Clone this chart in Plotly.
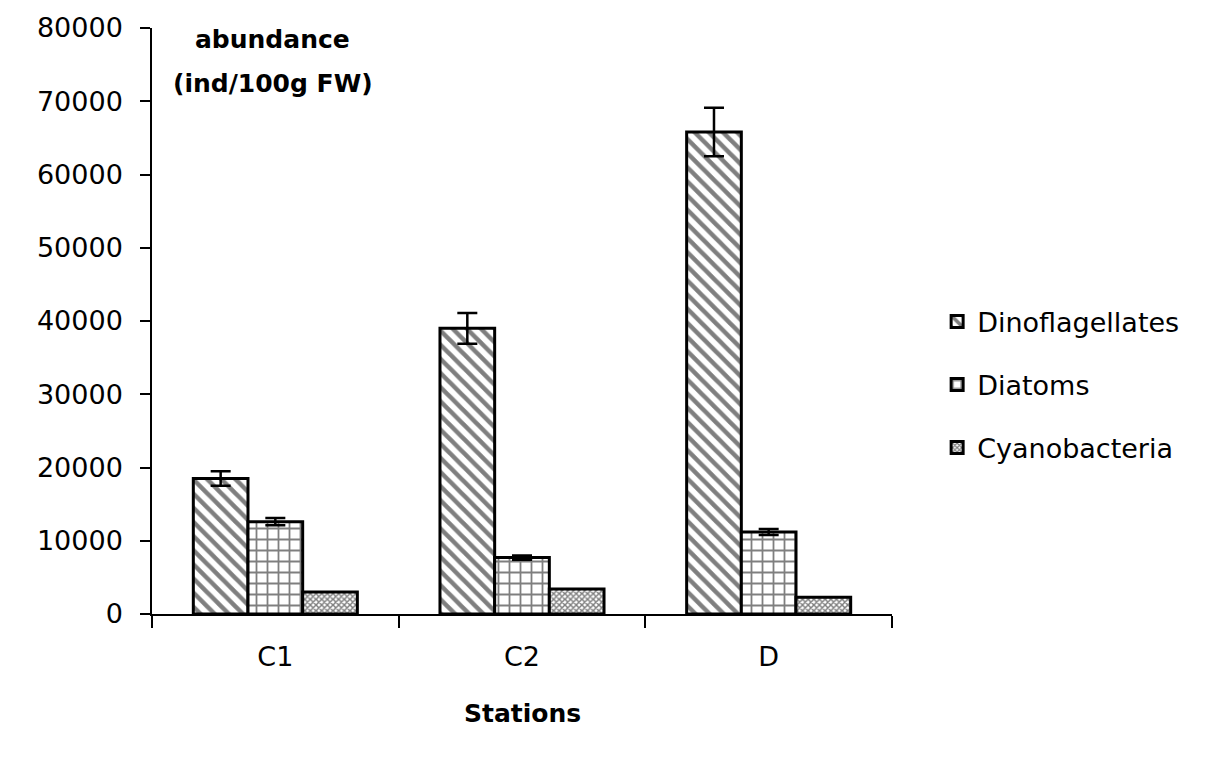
import plotly.graph_objects as go

# Data
stations = ["C1", "C2", "D"]

dino = [18500, 39000, 65800]
dino_err = [1000, 2100, 3300]

diatoms = [12600, 7700, 11200]
diatoms_err = [500, 300, 400]

cyano = [3000, 3400, 2300]

y_ticks = [0, 10000, 20000, 30000, 40000, 50000, 60000, 70000, 80000]

font_family = "DejaVu Sans, sans-serif"

fig = go.Figure()

fig.add_trace(go.Bar(
    x=stations, y=dino, name="Dinoflagellates", legendgroup="a",
    marker=dict(color="white", line=dict(color="black", width=3),
                pattern=dict(shape="\\", fgcolor="black", bgcolor="white",
                             size=10, solidity=0.45)),
    error_y=dict(type="data", array=dino_err, color="black", thickness=2.5, width=10),
))

fig.add_trace(go.Bar(
    x=stations, y=diatoms, name="Diatoms", legendgroup="b",
    marker=dict(color="white", line=dict(color="black", width=3),
                pattern=dict(shape="+", fgcolor="black", bgcolor="white",
                             size=11, solidity=0.3)),
    error_y=dict(type="data", array=diatoms_err, color="black", thickness=2.5, width=10),
))

fig.add_trace(go.Bar(
    x=stations, y=cyano, name="Cyanobacteria", legendgroup="c",
    marker=dict(color="white", line=dict(color="black", width=3),
                pattern=dict(shape="x", fgcolor="black", bgcolor="white",
                             size=4, solidity=0.6)),
))

# y axis title sits inside the plot, top left
fig.add_annotation(
    text="<b>abundance</b>", xref="paper", yref="paper", x=0.1635, y=0.98,
    xanchor="center", yanchor="middle", showarrow=False,
    font=dict(family=font_family, size=25, color="black"),
)
fig.add_annotation(
    text="<b>(ind/100g FW)</b>", xref="paper", yref="paper", x=0.1635, y=0.906,
    xanchor="center", yanchor="middle", showarrow=False,
    font=dict(family=font_family, size=25, color="black"),
)
# x axis title
fig.add_annotation(
    text="<b>Stations</b>", xref="paper", yref="paper", x=0.5, y=-0.169,
    xanchor="center", yanchor="middle", showarrow=False,
    font=dict(family=font_family, size=25, color="black"),
)

fig.update_layout(
    width=1205, height=772,
    margin=dict(l=144, r=321, t=20, b=166),
    plot_bgcolor="white", paper_bgcolor="white",
    barmode="group", bargap=0.335, bargroupgap=0,
    font=dict(family=font_family, size=26, color="black"),
    xaxis=dict(
        showline=True, linecolor="black", linewidth=1.5,
        ticks="outside", tickson="boundaries", ticklen=12, tickcolor="black",
        tickwidth=1.5, showgrid=False, tickfont=dict(size=27),
        ticklabelstandoff=18, automargin=False,
    ),
    yaxis=dict(
        range=[0, 80000], tickvals=y_ticks, tickformat="d",
        showline=True, linecolor="black", linewidth=1.5,
        ticks="outside", ticklen=10, tickcolor="black", tickwidth=1.5,
        showgrid=False, zeroline=False, tickfont=dict(size=27),
        ticklabelstandoff=12, automargin=False, ticklabeloverflow="allow",
    ),
    legend=dict(
        x=1.061, y=0.391, xanchor="left", yanchor="middle",
        font=dict(size=27), tracegroupgap=25, bgcolor="rgba(0,0,0,0)",
    ),
    showlegend=True,
)

fig.write_html("out.html")
